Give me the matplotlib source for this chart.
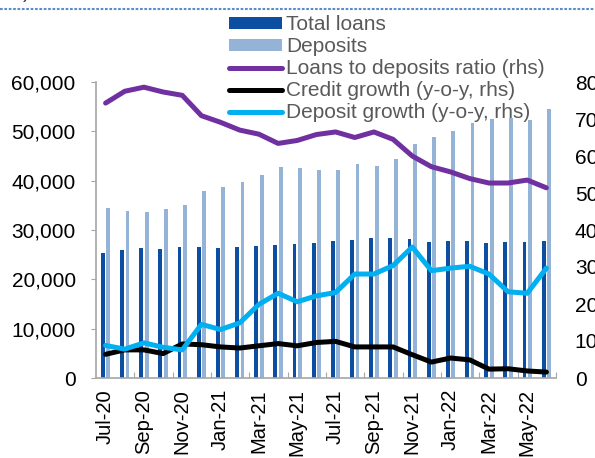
import numpy as np
import matplotlib
matplotlib.use("Agg")
import matplotlib.pyplot as plt
from matplotlib.lines import Line2D

plt.rcParams['font.family'] = ['Liberation Sans', 'DejaVu Sans']

# monthly data, Jul-20 .. Jun-22
months = ["Jul-20", "Aug-20", "Sep-20", "Oct-20", "Nov-20", "Dec-20",
          "Jan-21", "Feb-21", "Mar-21", "Apr-21", "May-21", "Jun-21",
          "Jul-21", "Aug-21", "Sep-21", "Oct-21", "Nov-21", "Dec-21",
          "Jan-22", "Feb-22", "Mar-22", "Apr-22", "May-22", "Jun-22"]

total_loans = [25300, 25950, 26300, 26150, 26500, 26550,
               26450, 26500, 26800, 26950, 27100, 27350,
               27700, 27950, 28350, 28300, 28100, 27650,
               27750, 27750, 27400, 27500, 27550, 27850]

deposits = [34400, 33800, 33650, 34200, 35100, 37850,
            38700, 39750, 41100, 42850, 42600, 42200,
            42200, 43300, 43050, 44400, 47350, 48900,
            50050, 51600, 52500, 52750, 52300, 54500]

# rhs series (%)
ltd_ratio = [74.3, 77.5, 78.6, 77.3, 76.4, 70.9,
             69.1, 67.0, 65.9, 63.4, 64.2, 65.8,
             66.5, 65.0, 66.5, 64.5, 60.0, 57.1,
             55.7, 53.9, 52.7, 52.7, 53.5, 51.4]

credit_growth = [6.4, 7.6, 7.6, 6.6, 9.2, 9.0,
                 8.4, 8.1, 8.7, 9.3, 8.7, 9.6,
                 9.9, 8.4, 8.4, 8.4, 6.3, 4.3,
                 5.4, 4.9, 2.4, 2.5, 1.9, 1.6]

deposit_growth = [8.8, 7.8, 9.5, 8.3, 7.6, 14.5,
                  13.1, 14.9, 19.9, 22.9, 20.6, 22.2,
                  23.1, 28.1, 28.1, 30.4, 35.4, 29.0,
                  29.7, 30.2, 28.1, 23.3, 22.9, 29.7]

dark_blue = "#0B4EA2"
light_blue = "#95B3D7"
purple = "#7030A0"
cyan = "#00B0F0"
grey = "#A6A6A6"
fs = 15

fig = plt.figure(figsize=(5.95, 4.58), dpi=100)
ax = fig.add_axes([96 / 595, 80 / 458, 460 / 595, 296 / 458])
ax2 = ax.twinx()

x = np.arange(len(months))
ax.bar(x - 0.14, total_loans, 0.2, color=dark_blue, label="Total loans")
ax.bar(x + 0.14, deposits, 0.2, color=light_blue, label="Deposits")

line_kw = dict(lw=3.6, solid_capstyle="round", solid_joinstyle="round")
ax2.plot(x, ltd_ratio, color=purple, label="Loans to deposits ratio (rhs)", **line_kw)
ax2.plot(x, credit_growth, color="black", label="Credit growth (y-o-y, rhs)", **line_kw)
ax2.plot(x, deposit_growth, color=cyan, label="Deposit growth (y-o-y, rhs)", **line_kw)

ax.set_xlim(-0.5, len(months) - 0.5)
ax.set_ylim(0, 60000)
ax2.set_ylim(0, 80)

# left axis
ax.set_yticks(np.arange(0, 60001, 10000))
ax.yaxis.set_major_formatter(matplotlib.ticker.FuncFormatter(lambda v, p: f"{int(v):,}"))
ax.tick_params(axis="y", direction="out", length=3.6, color=grey, labelsize=fs, pad=11)

# x axis: ticks between every second month, labels on the months
ax.set_xticks(np.arange(1.5, len(months), 2))
ax.set_xticklabels([])
ax.set_xticks(x[::2], minor=True)
ax.set_xticklabels(months[::2], minor=True, rotation=90, fontsize=14.5)
ax.tick_params(axis="x", which="major", direction="in", length=4.3, color=grey)
ax.tick_params(axis="x", which="minor", length=0, pad=8)

# right axis
ax2.set_yticks(np.arange(0, 81, 10))
ax2.tick_params(axis="y", length=0, labelsize=fs, pad=13.5)

for s in ["top", "right"]:
    ax.spines[s].set_visible(False)
for s in ["left", "bottom"]:
    ax.spines[s].set_color(grey)
    ax.spines[s].set_linewidth(1.2)
for s in ax2.spines.values():
    s.set_visible(False)

h1, l1 = ax.get_legend_handles_labels()
h2, l2 = ax2.get_legend_handles_labels()
leg = fig.legend(h1 + h2, l1 + l2, loc="upper left",
                 bbox_to_anchor=(229 / 595, 1 - 15.5 / 458), frameon=False,
                 fontsize=fs, borderpad=0, borderaxespad=0, handlelength=2.55,
                 handleheight=0.5, handletextpad=0.2, labelspacing=0.14)
for t in leg.get_texts():
    t.set_color("#595959")

# dotted border line at the top and clipped text above it
fig.add_artist(Line2D([0, 1], [1 - 9 / 458] * 2, transform=fig.transFigure,
                      color="#5B8BC9", lw=1.5, ls=(0, (1.3, 0.8))))
fig.text(23 / 595, 1 + 2 / 458, ")", fontsize=fs, color="#404040", va="baseline")

fig.savefig("out.png", dpi=100)
